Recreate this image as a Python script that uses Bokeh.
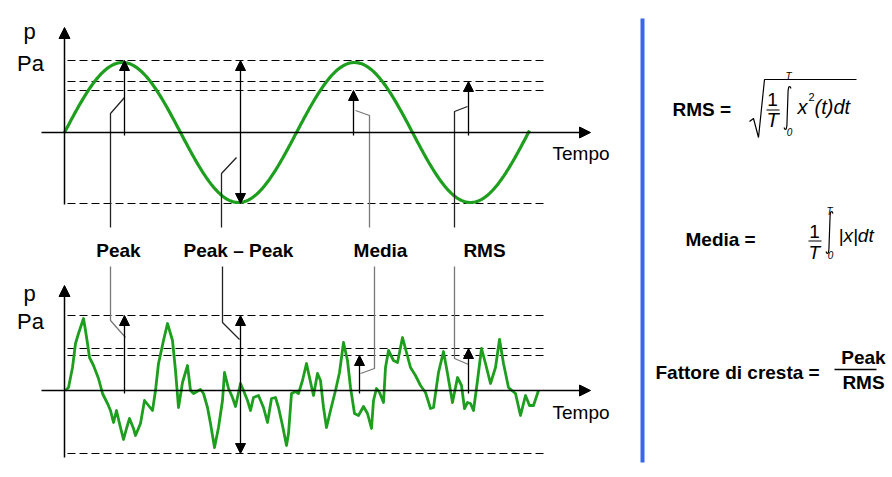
import numpy as np
from bokeh.plotting import figure
from bokeh.models import Range1d, Arrow, NormalHead
from bokeh.core.properties import value
from bokeh.embed import file_html
from bokeh.resources import INLINE

# ---------------- data ----------------
# Sine signal (schematic): amplitude, period, duration (time units)
sine_amplitude = 70
sine_period = 232
sine_duration = 465
sine_levels = [72, 51, 42, -71]          # peak, RMS, media, negative peak

# Random-like signal: time, pressure
noise_t = [1, 4, 8, 11, 14, 19, 21, 23, 25, 29, 34, 38, 43, 46, 49, 52, 55, 59, 62, 65,
           69, 71, 76, 80, 84, 88, 91, 94, 99, 103, 108, 111, 114, 118, 123, 126, 129, 136,
           139, 143, 146, 150, 154, 158, 160, 164, 168, 171, 176, 179, 183, 186, 189, 194,
           199, 203, 207, 211, 214, 218, 222, 224, 227, 231, 234, 238, 242, 245, 249, 253,
           256, 259, 262, 266, 271, 275, 279, 283, 286, 290, 294, 299, 303, 307, 309, 312,
           315, 319, 321, 324, 329, 333, 338, 342, 346, 351, 356, 361, 366, 369, 374, 379,
           383, 388, 393, 397, 400, 403, 406, 409, 413, 417, 421, 426, 431, 435, 439, 444,
           451, 456, 461, 465, 469, 474]
noise_p = [0, 3, 23, 47, 57, 72, 60, 47, 33, 25, 12, -3, -13, -20, -32, -20, -33, -49, -38, -28,
           -38, -45, -33, -10, -15, -20, 0, 27, 50, 67, 50, 20, -17, 8, 25, 0, -3, 1,
           -3, -17, -33, -57, -37, -10, 18, 2, -7, -16, 7, 0, -10, -20, -7, -5,
           -17, -32, -8, -7, -17, -35, -55, -43, -3, -1, -3, 10, 27, 13, -5, 17,
           10, -17, -37, -20, 0, 18, 48, 30, 3, -23, -25, -16, -23, -38, -10, 2,
           -2, -12, 23, 40, 30, 28, 53, 38, 23, 15, 5, -2, -18, -17, 18, 39,
           17, -12, 13, 5, -18, -12, -13, -20, 10, 42, 27, 7, 23, 51, 27, 3,
           -3, -25, -5, -15, -15, 0]
noise_levels = [75, 42, 35, -63]         # peak, RMS, media, negative peak

labels = ["Peak", "Peak \u2013 Peak", "Media", "RMS"]
arrow_t_top = [60, 176, 289, 404]
arrow_t_bot = [60, 176, 295, 404]

# ---------------- layout ----------------
X0 = 64            # time origin (px)
TOP0 = 132         # zero line of upper panel
BOT0 = 390         # zero line of lower panel
GREEN = "#1e9e1e"
FONT = value("Liberation Sans")

p = figure(width=892, height=477, x_range=Range1d(0, 892), y_range=Range1d(477, 0),
           output_backend="svg", toolbar_location=None, x_axis_type=None, y_axis_type=None,
           min_border=0, outline_line_color=None)
p.xgrid.visible = False
p.ygrid.visible = False
p.background_fill_color = "white"


def sx(t):
    return X0 + np.asarray(t, dtype=float)


def head(sz=10):
    return NormalHead(size=sz, fill_color="black", line_color="black", line_width=1)


for base in (TOP0, BOT0):
    lv = sine_levels if base == TOP0 else noise_levels
    for v in lv:
        p.line([67, 547], [base - v, base - v], line_color="black", line_width=1.2, line_dash="8 4")
    p.add_layout(Arrow(end=head(11), x_start=41, y_start=base, x_end=590, y_end=base,
                       line_width=1.5, line_color="black"))
    ytop = 27 if base == TOP0 else 285
    ybot = 204 if base == TOP0 else 457
    p.add_layout(Arrow(end=head(11), x_start=X0, y_start=ybot, x_end=X0, y_end=ytop,
                       line_width=1.5, line_color="black"))

# sine
ts = np.linspace(0, sine_duration, 400)
p.line(sx(ts), TOP0 - sine_amplitude * np.sin(2 * np.pi * ts / sine_period),
       line_color=GREEN, line_width=3.2)

# noise
p.line(sx(noise_t), BOT0 - np.asarray(noise_p), line_color=GREEN, line_width=2.8,
       line_join="round")

# arrows to levels
idx = [0, None, 2, 1]   # peak -> 0, media -> 2, rms -> 1
for base, lv, at in ((TOP0, sine_levels, arrow_t_top), (BOT0, noise_levels, arrow_t_bot)):
    for k, t in enumerate(at):
        x = X0 + t
        if k == 1:
            p.add_layout(Arrow(start=head(), end=head(), x_start=x, y_start=base - lv[3],
                               x_end=x, y_end=base - lv[0], line_width=1.3))
        else:
            p.add_layout(Arrow(end=head(), x_start=x, y_start=base + 3, x_end=x,
                               y_end=base - lv[idx[k]], line_width=1.3))

# leader lines
leaders_top = [([124, 110, 110], [97, 113, 227], "#222222"),
               ([236, 221, 221], [157, 173, 227], "#222222"),
               ([355, 369, 369], [110, 115, 227], "#777777"),
               ([467, 454, 454], [106, 111, 227], "#222222")]
leaders_bot = [([110, 110, 125], [266, 320, 337], "#777777"),
               ([222, 222, 239], [266, 322, 339], "#222222"),
               ([374, 374, 360], [266, 368, 373], "#777777"),
               ([454, 454, 468], [266, 358, 364], "#777777")]
for xs, ys, c in leaders_top + leaders_bot:
    p.line(xs, ys, line_color=c, line_width=1.3)

MID = "middle"
# labels
p.text(x=[118, 238, 380, 484], y=[249.5] * 4, text=labels, text_font=FONT,
       text_font_size="19px", text_font_style="bold", text_align="center",
       text_baseline=MID, text_color="black")
p.text(x=[29, 30, 29, 30], y=[30.5, 62.5, 292.5, 320.5], text=["p", "Pa", "p", "Pa"],
       text_font=FONT, text_font_size="22px", text_align="center", text_baseline=MID,
       text_color="black")
p.text(x=[552, 552], y=[152.5, 411.5], text=["Tempo", "Tempo"], text_font=FONT,
       text_font_size="19px", text_align="left", text_baseline=MID, text_color="black")

# separator
p.line([642, 642], [18, 462], line_color="#3b66e6", line_width=4)

# ---- formulas ----
p.text(x=[672, 685, 655], y=[108.5, 238.5, 371.5], text=["RMS =", "Media =", "Fattore di cresta ="],
       text_font=FONT, text_font_size="19px", text_font_style="bold", text_align="left",
       text_baseline=MID, text_color="black")

# RMS formula
p.line([749, 753, 758, 764, 856], [121, 118, 137, 79, 79], line_color="black", line_width=1.2)
p.text(x=[772], y=[98.5], text=["1"], text_font=FONT, text_font_size="19px",
       text_align="center", text_baseline=MID)
p.line([766, 779], [109.5, 109.5], line_color="black", line_width=1.2)
p.text(x=[772, 797, 814], y=[119, 106.5, 106.5], text=["T", "x", "(t)dt"], text_font=FONT,
       text_font_size="20px", text_font_style="italic", text_align="left",
       text_baseline=MID, x_offset=[-6, 0, 0])
p.text(x=[808], y=[96], text=["2"], text_font=FONT, text_font_size="11px",
       text_align="left", text_baseline=MID)


def integral(x, y0, y1):
    xs = [x + 3.5, x + 2.5, x + 1.2, x + 0.6, x - 0.6, x - 1.2, x - 2.5, x - 3.5]
    ys = [y0 + 2, y0, y0 + 0.5, y0 + 4, y1 - 4, y1 - 0.5, y1, y1 - 2]
    p.line(xs, ys, line_color="black", line_width=1.2)


integral(787, 86, 129)
p.text(x=[788, 789], y=[75.5, 131.5], text=["T", "0"], text_font=FONT, text_font_size="10px",
       text_font_style="italic", text_align="center", text_baseline=MID)

# Media formula
p.text(x=[814], y=[230.5], text=["1"], text_font=FONT, text_font_size="19px",
       text_align="center", text_baseline=MID)
p.line([808, 821], [240.5, 240.5], line_color="black", line_width=1.2)
p.text(x=[814, 838], y=[251.5, 234.5], text=["T", "|x|dt"], text_font=FONT, text_font_size="19px",
       text_font_style="italic", text_align="left", text_baseline=MID, x_offset=[-6, 0])
integral(829, 211, 253)
p.text(x=[829, 830], y=[210.5, 254.5], text=["T", "0"], text_font=FONT, text_font_size="10px",
       text_font_style="italic", text_align="center", text_baseline=MID)

# Crest factor
p.text(x=[863, 863], y=[356.5, 381.5], text=["Peak", "RMS"], text_font=FONT, text_font_size="19px",
       text_font_style="bold", text_align="center", text_baseline=MID)
p.line([834, 876], [369, 369], line_color="black", line_width=1.5)

open("out.html", "w").write(file_html(p, INLINE))
